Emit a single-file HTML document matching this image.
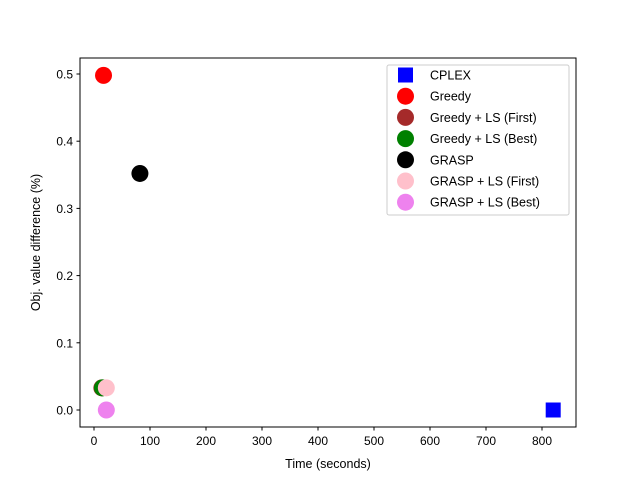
<!DOCTYPE html>
<html><head><meta charset="utf-8"><style>body{margin:0;background:#fff}svg{display:block;font-family:"Liberation Sans","DejaVu Sans",sans-serif}</style></head>
<body>
<svg id="c" width="640" height="480"></svg>
<script>
const seriesNames=["CPLEX","Greedy","Greedy + LS (First)","Greedy + LS (Best)","GRASP","GRASP + LS (First)","GRASP + LS (Best)"];
const seriesColors=["blue","red","brown","green","black","pink","violet"];
const xValues=[820,17,14,15,82,22,22];
const yValues=[0.0,0.498,0.033,0.033,0.352,0.033,0.0];
const xTicks=[0,100,200,300,400,500,600,700,800];
const yTicks=[0.0,0.1,0.2,0.3,0.4,0.5];
const L=80,R=576,T=58,B=427;
const xs=v=>94+v*(542-94)/800;
const ys=v=>410-v*(410-74)/0.5;
const svg=document.getElementById('c');const NS="http://www.w3.org/2000/svg";
function mk(t,a,p){const e=document.createElementNS(NS,t);for(const k in a)e.setAttribute(k,a[k]);(p||svg).appendChild(e);return e;}
const ax=mk('rect',{x:L,y:T,width:R-L,height:B-T,fill:'none',stroke:'#000','stroke-width':1});


xTicks.forEach(v=>{const x=xs(v);mk('line',{x1:x,x2:x,y1:B,y2:B+3.5,stroke:'#000'});const t=mk('text',{x:x,y:B+18,'text-anchor':'middle','font-size':12});t.textContent=v;

});
yTicks.forEach(v=>{const y=ys(v);mk('line',{x1:L-3.5,x2:L,y1:y,y2:y,stroke:'#000'});const t=mk('text',{x:L-7,y:y+4.5,'text-anchor':'end','font-size':12});t.textContent=v.toFixed(1);

});
const xt=mk('text',{x:(L+R)/2,y:468,'text-anchor':'middle','font-size':12.5});xt.textContent='Time (seconds)';


const yt=mk('text',{x:0,y:0,'text-anchor':'middle','font-size':12.5,transform:`translate(40,${(T+B)/2}) rotate(-90)`});yt.textContent='Obj. value difference (%)';


for(let i=0;i<seriesNames.length;i++){const x=xs(xValues[i]),y=ys(yValues[i]);let m;
if(i===0)m=mk('rect',{x:x-7.5,y:y-7.5,width:15,height:15,fill:seriesColors[i]});else m=mk('circle',{cx:x,cy:y,r:8.5,fill:seriesColors[i]});

}
const lg=mk('g',{});


mk('rect',{x:387,y:65,width:182,height:150,fill:'#fff',stroke:'#ccc',rx:2},lg);
seriesNames.forEach((n,i)=>{const y=75+i*21.2;
if(i===0)mk('rect',{x:398,y:y-7.5,width:15,height:15,fill:seriesColors[i]},lg);else mk('circle',{cx:405.5,cy:y,r:8.5,fill:seriesColors[i]},lg);
const t=mk('text',{x:430,y:y+4.5,'font-size':12.5},lg);t.textContent=n;

});
</script>
</body></html>
